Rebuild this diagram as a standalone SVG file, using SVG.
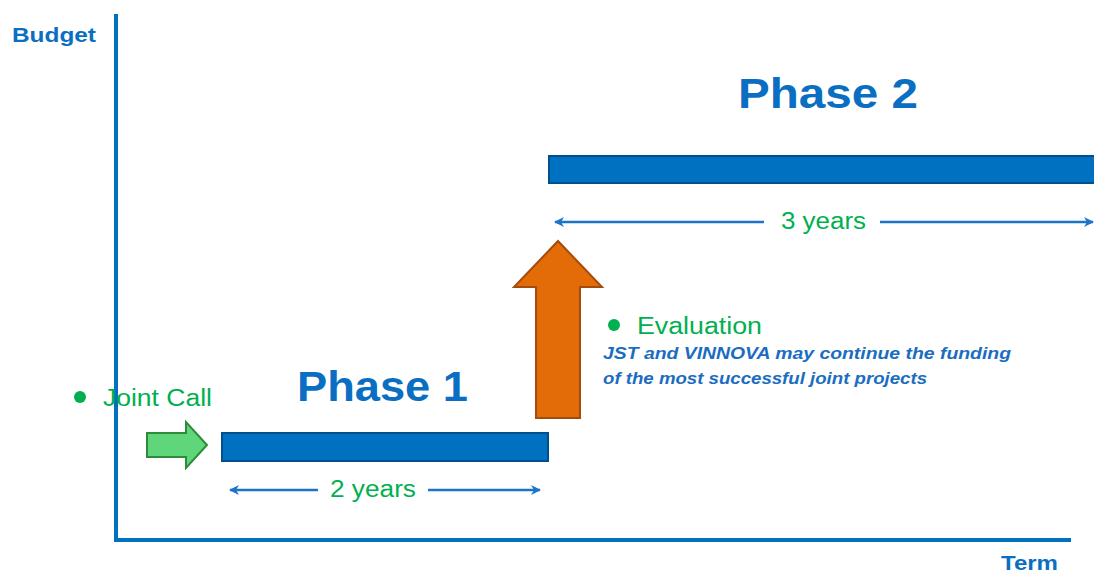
<svg xmlns="http://www.w3.org/2000/svg" width="1094" height="574" viewBox="0 0 1094 574">
<style>
.ax{stroke:#0070C0;stroke-width:4;fill:none}
.lbl{font-family:"Liberation Sans",Arial,sans-serif;font-weight:bold;fill:#0a6fc2}
.ph{font-family:"Liberation Sans",Arial,sans-serif;font-weight:bold;font-size:42px;fill:#0a6fc2}
.g{font-family:"Liberation Sans",Arial,sans-serif;font-size:23px;fill:#00B050}
.it{font-family:"Liberation Sans",Arial,sans-serif;font-size:17px;font-style:italic;font-weight:bold;fill:#1a6dc0}
.bar{fill:#0070C0;stroke:#00508f;stroke-width:2}
.dim{stroke:#1a75c8;stroke-width:2.5;fill:none}
</style>
<defs>
<marker id="ah" viewBox="0 0 10 10" refX="9" refY="5" markerWidth="4" markerHeight="4" orient="auto-start-reverse">
<path d="M0,0 L10,5 L0,10 L3,5 Z" fill="#1a75c8"/>
</marker>
</defs>
<g id="axes">
<line class="ax" x1="116" y1="14" x2="116" y2="541"/>
<line class="ax" x1="114" y1="540" x2="1071" y2="540"/>
<text class="lbl" x="12" y="42" font-size="21" textLength="84" lengthAdjust="spacingAndGlyphs">Budget</text>
<text class="lbl" x="1001" y="570" font-size="21" textLength="57" lengthAdjust="spacingAndGlyphs">Term</text>
</g>
<g id="phase1">
<rect class="bar" x="222" y="433" width="326" height="28"/>
<text class="ph" x="297" y="401" textLength="171" lengthAdjust="spacingAndGlyphs">Phase 1</text>
</g>
<g id="phase2">
<rect class="bar" x="549" y="156" width="547" height="27"/>
<text class="ph" x="738" y="108" textLength="180" lengthAdjust="spacingAndGlyphs">Phase 2</text>
</g>
<g id="jointcall">
<circle cx="80" cy="397" r="6" fill="#00B050"/>
<text class="g" x="103" y="406" textLength="109" lengthAdjust="spacingAndGlyphs">Joint Call</text>
<path d="M147,433 H186 V422 L207,445 L186,468 V457 H147 Z" fill="#5fd67a" stroke="#2e8b3a" stroke-width="2"/>
</g>
<g id="evaluation">
<path d="M558,241 L602,287 H580 V418 H536 V287 H514 Z" fill="#E36C09" stroke="#a24d0c" stroke-width="2"/>
<circle cx="614" cy="325" r="6" fill="#00B050"/>
<text class="g" x="637" y="334" textLength="125" lengthAdjust="spacingAndGlyphs">Evaluation</text>
<text class="it" x="603" y="359" textLength="408" lengthAdjust="spacingAndGlyphs">JST and VINNOVA may continue the funding</text>
<text class="it" x="603" y="384" textLength="324" lengthAdjust="spacingAndGlyphs">of the most successful joint projects</text>
</g>
<g id="connectors">
<line class="dim" x1="230" y1="490" x2="318" y2="490" marker-start="url(#ah)"/>
<line class="dim" x1="428" y1="490" x2="540" y2="490" marker-end="url(#ah)"/>
<line class="dim" x1="555" y1="222" x2="764" y2="222" marker-start="url(#ah)"/>
<line class="dim" x1="880" y1="222" x2="1093" y2="222" marker-end="url(#ah)"/>
</g>
<g id="dimlabels">
<text class="g" x="330" y="497" textLength="86" lengthAdjust="spacingAndGlyphs">2 years</text>
<text class="g" x="781" y="229" textLength="85" lengthAdjust="spacingAndGlyphs">3 years</text>
</g>
</svg>
